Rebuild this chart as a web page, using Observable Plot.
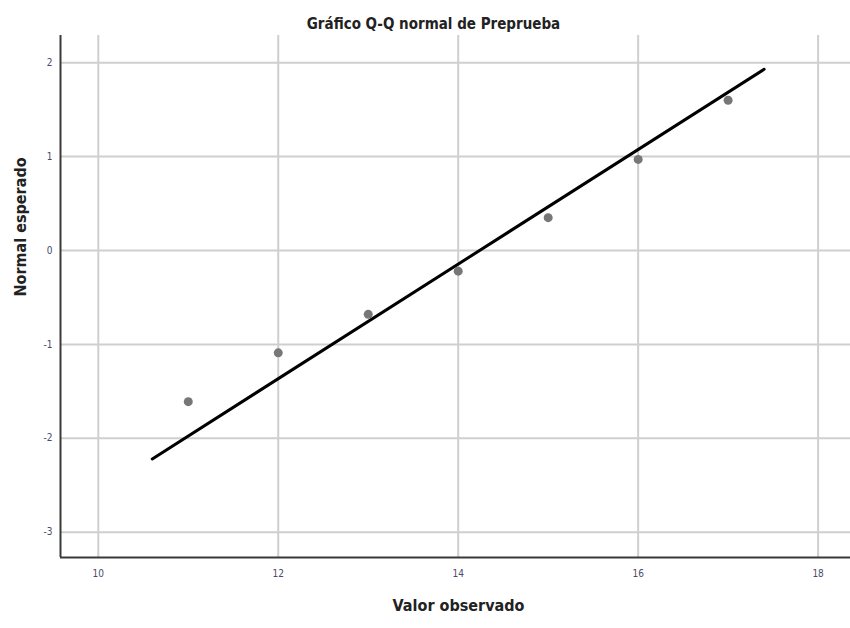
<!DOCTYPE html>
<html>
<head>
<meta charset="utf-8">
<script src="https://cdn.jsdelivr.net/npm/d3@7"></script>
<script src="https://cdn.jsdelivr.net/npm/@observablehq/plot@0.6"></script>
<style>
  html, body { margin: 0; padding: 0; background: #fff; }
  #chart svg { display: block; }
</style>
</head>
<body>
<div id="chart"></div>
<script>
// Observed values (x) and expected normal values (y)
const observed = [11, 12, 13, 14, 15, 16, 17];
const expected = [-1.61, -1.09, -0.68, -0.22, 0.35, 0.97, 1.60];
// Reference line endpoints
const lineX = [10.6, 17.4];
const lineY = [-2.22, 1.93];
// Tick labels
const xTicks = [10, 12, 14, 16, 18];
const yTicks = [-3, -2, -1, 0, 1, 2];
const title = "Gráfico Q-Q normal de Preprueba";
const xLabel = "Valor observado";
const yLabel = "Normal esperado";

const points = observed.map((x, i) => ({x, y: expected[i]}));
const refLine = lineX.map((x, i) => ({x, y: lineY[i]}));

const xDomain = [9.58, 18.36];
const yDomain = [-3.27, 2.29];
const font = "'Liberation Sans Narrow', 'DejaVu Sans Condensed', Roboto, sans-serif";
const fmt = d => String(d);

const chart = Plot.plot({
  width: 850,
  height: 628,
  marginLeft: 60,
  marginRight: 0,
  marginTop: 35,
  marginBottom: 71,
  style: {fontFamily: font, background: "#fff"},
  x: {domain: xDomain, ticks: xTicks},
  y: {domain: yDomain, ticks: yTicks},
  marks: [
    Plot.gridX(xTicks, {stroke: "#cfcfcf", strokeOpacity: 1, strokeWidth: 2}),
    Plot.gridY(yTicks, {stroke: "#cfcfcf", strokeOpacity: 1, strokeWidth: 2}),
    Plot.ruleX([xDomain[0]], {stroke: "#3a3a3a", strokeWidth: 2}),
    Plot.ruleY([yDomain[0]], {stroke: "#3a3a3a", strokeWidth: 2}),
    Plot.axisX(xTicks, {tickSize: 0, tickPadding: 12, fontSize: 10, fill: "#4a4a6a", label: null, tickFormat: fmt}),
    Plot.axisY(yTicks, {tickSize: 0, tickPadding: 8, fontSize: 10, fill: "#4a4a6a", label: null, tickFormat: fmt}),
    Plot.line(refLine, {x: "x", y: "y", stroke: "#000", strokeWidth: 3}),
    Plot.dot(points, {x: "x", y: "y", r: 4.5, fill: "#777", stroke: "none"}),
    Plot.text([title], {frameAnchor: "top", dy: -17, dx: -22, fontSize: 15, fontWeight: "bold", fill: "#222"}),
    Plot.text([xLabel], {frameAnchor: "bottom", dy: 53, dx: 3, fontSize: 16, fontWeight: "bold", fill: "#222"}),
    Plot.text([yLabel], {frameAnchor: "left", dx: -40, rotate: -90, fontSize: 16, fontWeight: "bold", fill: "#222"})
  ]
});
document.getElementById("chart").appendChild(chart);
</script>
</body>
</html>
